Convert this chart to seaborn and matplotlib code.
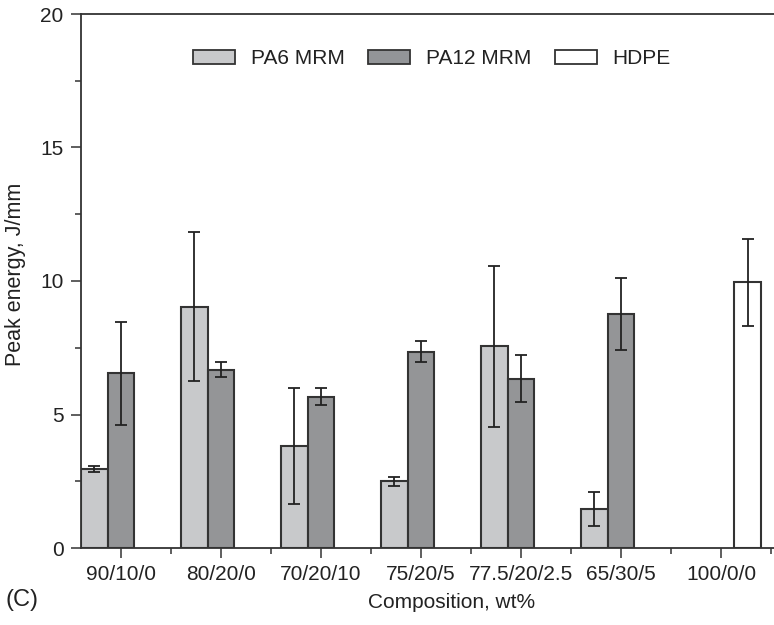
import numpy as np
import pandas as pd
import matplotlib
matplotlib.use("Agg")
import matplotlib.pyplot as plt
import matplotlib.patches as mpatches
from matplotlib.ticker import MultipleLocator, FixedLocator
import seaborn as sns

# Peak energy (J/mm) per blend composition, mean and standard deviation
compositions = ["90/10/0", "80/20/0", "70/20/10", "75/20/5",
                "77.5/20/2.5", "65/30/5", "100/0/0"]
materials = ["PA6 MRM", "PA12 MRM", "HDPE"]

pa6_mean = [2.96, 9.04, 3.83, 2.50, 7.55, 1.46, np.nan]
pa6_sd = [0.12, 2.79, 2.17, 0.16, 3.00, 0.62, np.nan]
pa12_mean = [6.54, 6.67, 5.67, 7.35, 6.34, 8.76, np.nan]
pa12_sd = [1.93, 0.28, 0.33, 0.40, 0.89, 1.34, np.nan]
hdpe_mean = [np.nan, np.nan, np.nan, np.nan, np.nan, np.nan, 9.96]
hdpe_sd = [np.nan, np.nan, np.nan, np.nan, np.nan, np.nan, 1.63]

colors = {"PA6 MRM": "#c8c9cb", "PA12 MRM": "#939598", "HDPE": "#ffffff"}
edge = "#333333"
text_col = "#222222"

means = {"PA6 MRM": pa6_mean, "PA12 MRM": pa12_mean, "HDPE": hdpe_mean}
sds = {"PA6 MRM": pa6_sd, "PA12 MRM": pa12_sd, "HDPE": hdpe_sd}

df = pd.DataFrame({
    "composition": np.tile(compositions, len(materials)),
    "material": np.repeat(materials, len(compositions)),
    "energy": np.concatenate([means[m] for m in materials]),
    "sd": np.concatenate([sds[m] for m in materials]),
})

sns.set_theme(style="ticks")
plt.rcParams["font.family"] = ["Liberation Sans", "DejaVu Sans"]
plt.rcParams["text.color"] = text_col
plt.rcParams["axes.labelcolor"] = text_col

fig = plt.figure(figsize=(7.74, 6.25), dpi=100)
ax = fig.add_axes([81 / 774, 1 - 548 / 625, 693 / 774, 534 / 625])

sns.barplot(data=df.dropna(subset=["energy"]), x="composition", y="energy",
            hue="material", order=compositions, hue_order=materials,
            palette=colors, width=0.8, gap=0, dodge=True, errorbar=None,
            edgecolor=edge, linewidth=1.5, legend=False, ax=ax)

# error bars at each drawn bar's centre
for container, mat in zip(ax.containers, materials):
    for bar in container:
        xc = bar.get_x() + bar.get_width() / 2
        idx = int(round(xc))
        ax.errorbar(xc, means[mat][idx], yerr=sds[mat][idx], fmt="none",
                    ecolor="#222222", elinewidth=1.3, capsize=4, capthick=1.3,
                    zorder=5)

ax.set_ylim(0, 20)
ax.set_xlim(-0.4, 6.53)
ax.yaxis.set_major_locator(MultipleLocator(5))
ax.yaxis.set_minor_locator(MultipleLocator(2.5))
ax.xaxis.set_minor_locator(FixedLocator(np.arange(0.5, 7, 1.0)))

ax.tick_params(axis="both", which="major", direction="out", length=7.5,
               width=1.1, color=edge, labelsize=15, labelcolor=text_col, pad=5)
ax.tick_params(axis="both", which="minor", direction="out", length=4,
               width=1.1, color=edge)

ax.spines["right"].set_visible(False)
for s in ["left", "top", "bottom"]:
    ax.spines[s].set_color(edge)
    ax.spines[s].set_linewidth(1.3)

ax.set_xlabel("Composition, wt%", fontsize=15)
ax.set_ylabel("Peak energy, J/mm", fontsize=15.5, va="center")
ax.xaxis.set_label_coords((452 - 81) / 693, -0.084)
ax.yaxis.set_label_coords((16 - 81) / 693, (548 - 274) / 534)

handles = [mpatches.Patch(facecolor=colors[m], edgecolor=edge, linewidth=1.3,
                          label=m) for m in materials]
ax.legend(handles=handles, loc="center",
          bbox_to_anchor=((432 - 81) / 693, (548 - 59) / 534), ncol=3,
          frameon=False, fontsize=15, handlelength=2.0, handleheight=0.65,
          handletextpad=0.75, columnspacing=1.15)

fig.text(22 / 774, 1 - 600 / 625, "(C)", ha="center", va="center",
         fontsize=17, color=text_col)

fig.savefig("out.png", dpi=100)
